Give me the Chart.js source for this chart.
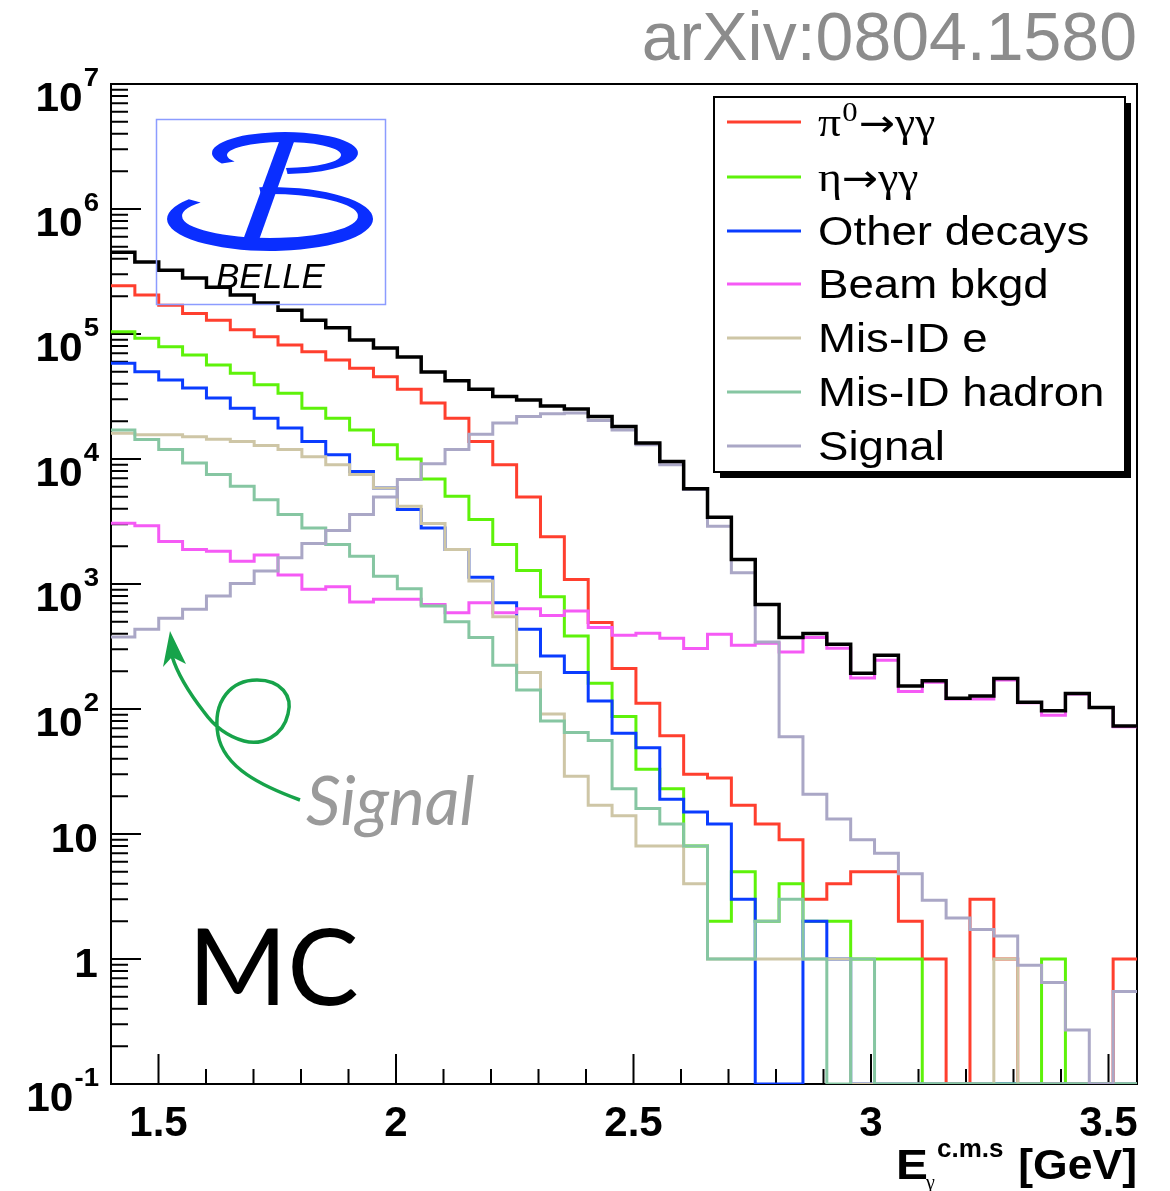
<!DOCTYPE html>
<html>
<head>
<meta charset="utf-8">
<title>E_gamma c.m.s spectrum (MC)</title>
<script src="https://cdn.jsdelivr.net/npm/chart.js@4.4.1/dist/chart.umd.min.js"></script>
<style>
  body { margin: 0; background: #fff; }
  canvas { display: block; }
</style>
</head>
<body>
<canvas id="egamma" width="1170" height="1191"></canvas>
<script>
// histogram binning (GeV)
const binLow = 1.4;
const binHigh = 3.56;
const nBins = 43;
const yMin = 0.1;
const yMax = 1e7;

const seriesNames = ["π⁰→γγ", "η→γγ", "Other decays", "Beam bkgd", "Mis-ID e", "Mis-ID hadron", "Signal"];
const seriesColors = ["#ff3f2e", "#5ef20a", "#0a3cff", "#f55af5", "#cec6a6", "#86c6a2", "#aaa7c6"];

// entries per bin
const pi0Counts = [243000, 205000, 170000, 146000, 129000, 108000, 95100, 81700, 72200, 62000, 53200, 45600, 36200, 28000, 21200, 13800, 9010, 4970, 2385, 1088, 491, 211, 111, 61, 30, 28, 17, 12, 9, 3, 4, 5, 5, 2, 1, 0, 3, 1, 0, 0, 0, 0, 1];
const etaCounts = [104000, 92400, 79200, 68000, 56600, 48600, 39200, 33600, 25500, 21200, 17100, 13000, 10000, 6920, 5030, 3280, 2070, 1284, 789, 384, 161, 87, 33, 23, 8, 2, 5, 2, 4, 2, 2, 1, 1, 1, 0, 0, 0, 0, 0, 1, 0, 0, 0];
const otherCounts = [58400, 50000, 42900, 36900, 30700, 25500, 21200, 17700, 13800, 10800, 7960, 5870, 3940, 2805, 1889, 1130, 709, 434, 266, 196, 116, 64, 49, 19, 15, 12, 3, 0, 0, 2, 1, 0, 0, 0, 0, 0, 0, 0, 0, 0, 0, 0, 0];
const beamCounts = [3060, 2920, 2190, 1890, 1830, 1520, 1710, 1180, 906, 951, 717, 754, 754, 687, 590, 709, 590, 635, 561, 608, 448, 389, 403, 368, 305, 396, 324, 336, 286, 373, 306, 177, 245, 138, 164, 120, 120, 171, 112, 89, 132, 103, 72];
const misIdECounts = [16100, 15600, 15600, 15100, 14400, 13800, 12800, 11900, 10400, 9010, 7500, 5870, 4190, 3050, 1890, 1055, 546, 196, 91, 29, 17, 14, 8, 8, 4, 1, 1, 1, 1, 1, 1, 0, 0, 0, 0, 0, 0, 1, 0, 0, 0, 0, 0];
const misIdHadronCounts = [17100, 14300, 11900, 9290, 7500, 6040, 4730, 3590, 2810, 2070, 1670, 1156, 917, 666, 500, 373, 224, 142, 80, 65, 56, 23, 16, 12, 8, 1, 1, 2, 3, 1, 0, 1, 0, 0, 0, 0, 0, 0, 0, 0, 0, 0, 0];
const signalCounts = [377, 434, 532, 627, 800, 1010, 1270, 1620, 2110, 2680, 3590, 4960, 6840, 9170, 11900, 15800, 19400, 21900, 23000, 23300, 20300, 17100, 13000, 9010, 5690, 2900, 1230, 343, 60, 20.8, 13.2, 9.0, 7.0, 4.8, 2.95, 2.13, 1.72, 1.53, 0.89, 0.65, 0.27, 0, 0.55];
const totalCounts = [451000, 376000, 324000, 280000, 237000, 205000, 177000, 155000, 129000, 112000, 89600, 77300, 65500, 49700, 42200, 36200, 31600, 29700, 26600, 25100, 21900, 18200, 13400, 9570, 5790, 3420, 1570, 687, 373, 401, 330, 193, 269, 153, 168, 122, 127, 175, 113, 97, 133, 103, 73];

// axis ticks
const xTickValues = [1.5, 2, 2.5, 3, 3.5];
const xTickLabels = ["1.5", "2", "2.5", "3", "3.5"];
const xMinorTicks = [1.6, 1.7, 1.8, 1.9, 2.1, 2.2, 2.3, 2.4, 2.6, 2.7, 2.8, 2.9, 3.1, 3.2, 3.3, 3.4];
const yTickValues = [0.1, 1, 10, 100, 1e3, 1e4, 1e5, 1e6, 1e7];
const yTickBases = ["10", "1", "10", "10", "10", "10", "10", "10", "10"];
const yTickExps = ["-1", "", "", "2", "3", "4", "5", "6", "7"];

const SANS = "'Liberation Sans', Arial, Helvetica, sans-serif";
const SERIF = "'Liberation Serif', 'Times New Roman', serif";
const ARROW = "'DejaVu Sans', sans-serif";
const GILL = "Lato, 'Open Sans', sans-serif";
const WIDE = 1.14; // ROOT text here is a bit wider than Helvetica

const binEdges = Array.from({ length: nBins + 1 }, (_, i) => binLow + (i * (binHigh - binLow)) / nBins);

// ROOT-style: empty bins sit on the bottom of the frame
function histPoints(counts) {
  const pts = counts.map((c, i) => ({ x: binEdges[i], y: c > 0 ? c : yMin }));
  pts.push({ x: binEdges[nBins], y: pts[nBins - 1].y });
  return pts;
}

const seriesCounts = [pi0Counts, etaCounts, otherCounts, beamCounts, misIdECounts, misIdHadronCounts, signalCounts];
const drawOrder = [7, 6, 5, 4, 3, 2, 1];

const datasets = seriesNames.map((name, i) => ({
  label: name,
  data: histPoints(seriesCounts[i]),
  borderColor: seriesColors[i],
  borderWidth: 3,
  order: drawOrder[i],
}));
datasets.push({
  label: "Total",
  data: histPoints(totalCounts),
  borderColor: "#000",
  borderWidth: 3.5,
  order: 0,
});
datasets.forEach((d) => {
  d.stepped = "before";
  d.pointRadius = 0;
  d.fill = false;
  d.tension = 0;
  d.borderJoinStyle = "miter";
});

// frame + inward ticks, drawn under the histograms
const rootFrame = {
  id: "rootFrame",
  beforeDatasetsDraw(chart) {
    const { ctx, chartArea: a } = chart;
    const x = chart.scales.x;
    const y = chart.scales.y;
    ctx.save();
    ctx.strokeStyle = "#000";
    ctx.lineWidth = 2;
    ctx.strokeRect(a.left, a.top, a.right - a.left, a.bottom - a.top);

    ctx.beginPath();
    for (let e = -1; e < 7; e++) {
      for (let m = 1; m < 10; m++) {
        const py = y.getPixelForValue(m * Math.pow(10, e));
        ctx.moveTo(a.left, py);
        ctx.lineTo(a.left + (m === 1 ? 30 : 17), py);
      }
    }
    xTickValues.forEach((v) => {
      const px = x.getPixelForValue(v);
      ctx.moveTo(px, a.bottom);
      ctx.lineTo(px, a.bottom - 30);
    });
    xMinorTicks.forEach((v) => {
      const px = x.getPixelForValue(v);
      ctx.moveTo(px, a.bottom);
      ctx.lineTo(px, a.bottom - 15);
    });
    ctx.stroke();
    ctx.restore();
  },
};

function drawBelleLogo(ctx) {
  const rad = (d) => (d * Math.PI) / 180;
  ctx.save();
  ctx.strokeStyle = "#8c9cff";
  ctx.lineWidth = 1.5;
  ctx.strokeRect(156.5, 119.5, 229, 185);

  ctx.fillStyle = "#0a2eff";
  // upper bowl of the script B
  ctx.beginPath();
  ctx.ellipse(285, 153, 73, 21, 0, rad(150), rad(448));
  ctx.ellipse(284, 155, 57, 13, 0, rad(448), rad(150), true);
  ctx.closePath();
  ctx.fill();
  // lower bowl
  ctx.beginPath();
  ctx.ellipse(270, 219, 103, 32, 0, rad(264), rad(578));
  ctx.ellipse(270, 216, 88, 22, 0, rad(578), rad(264), true);
  ctx.closePath();
  ctx.fill();
  // stem
  ctx.beginPath();
  ctx.moveTo(280, 139);
  ctx.lineTo(295, 139);
  ctx.lineTo(259, 240);
  ctx.lineTo(243, 240);
  ctx.closePath();
  ctx.fill();

  ctx.fillStyle = "#000";
  ctx.font = `italic 35px ${SANS}`;
  ctx.textAlign = "left";
  ctx.textBaseline = "alphabetic";
  ctx.fillText("BELLE", 216, 288);
  ctx.restore();
}

// draws a run of text pieces, each with its own font and vertical shift,
// stretched horizontally by sx
function drawPieces(ctx, pieces, x, y, sx) {
  ctx.save();
  ctx.translate(x, y);
  ctx.scale(sx, 1);
  let cx = 0;
  pieces.forEach((p) => {
    ctx.font = p.font;
    ctx.fillText(p.t, cx, p.dy || 0);
    cx += ctx.measureText(p.t).width + (p.gap || 0);
  });
  ctx.restore();
}

function piecesWidth(ctx, pieces, sx) {
  let w = 0;
  pieces.forEach((p) => {
    ctx.font = p.font;
    w += ctx.measureText(p.t).width + (p.gap || 0);
  });
  return w * sx;
}

function legendPieces(name) {
  if (name === "π⁰→γγ") {
    return [
      { t: "π", font: `40px ${SERIF}`, gap: 1 },
      { t: "0", font: `27px ${SERIF}`, dy: -15, gap: 1 },
      { t: "→", font: `38px ${ARROW}` },
      { t: "γγ", font: `40px ${SERIF}` },
    ];
  }
  if (name === "η→γγ") {
    return [
      { t: "η", font: `40px ${SERIF}` },
      { t: "→", font: `38px ${ARROW}` },
      { t: "γγ", font: `40px ${SERIF}` },
    ];
  }
  return [{ t: name, font: `40px ${SANS}` }];
}

const overlays = {
  id: "overlays",
  afterDatasetsDraw(chart) {
    drawBelleLogo(chart.ctx);
  },
  afterDraw(chart) {
    const { ctx } = chart;
    const y = chart.scales.y;
    ctx.save();
    ctx.fillStyle = "#000";
    ctx.textBaseline = "alphabetic";
    ctx.textAlign = "left";

    // y tick labels, 10^n with raised exponent, right edge at x = 99
    yTickValues.forEach((v, i) => {
      const py = y.getPixelForValue(v);
      const exp = yTickExps[i];
      const base = { t: yTickBases[i], font: `bold 40px ${SANS}`, gap: 1 };
      const pieces = exp ? [base, { t: exp, font: `bold 26px ${SANS}`, dy: -25 }] : [base];
      const w = piecesWidth(ctx, pieces, 1.06);
      drawPieces(ctx, pieces, 99 - w, py + (exp ? 27 : 18), 1.06);
    });

    // x axis title
    drawPieces(ctx, [{ t: "E", font: `bold 42px ${SANS}` }], 896, 1179, WIDE);
    drawPieces(ctx, [{ t: "c.m.s", font: `bold 26px ${SANS}` }], 937, 1157, 1);
    drawPieces(ctx, [{ t: "γ", font: `20px ${SERIF}` }], 926, 1189, 1);
    const unit = [{ t: "[GeV]", font: `bold 42px ${SANS}` }];
    drawPieces(ctx, unit, 1137 - piecesWidth(ctx, unit, 1.06), 1179, 1.06);

    // legend box with drop shadow
    const lx = 714, ly = 97, lw = 411, lh = 375;
    ctx.fillStyle = "#000";
    ctx.fillRect(lx + 6, ly + lh, lw, 6);
    ctx.fillRect(lx + lw, ly + 6, 6, lh);
    ctx.fillStyle = "#fff";
    ctx.fillRect(lx, ly, lw, lh);
    ctx.strokeStyle = "#000";
    ctx.lineWidth = 2;
    ctx.strokeRect(lx, ly, lw, lh);
    const rowY = [122, 177, 231, 284, 338, 392, 446];
    seriesNames.forEach((name, i) => {
      ctx.strokeStyle = seriesColors[i];
      ctx.lineWidth = 3;
      ctx.beginPath();
      ctx.moveTo(727, rowY[i]);
      ctx.lineTo(801, rowY[i]);
      ctx.stroke();
      ctx.fillStyle = "#000";
      drawPieces(ctx, legendPieces(name), 818, rowY[i] + 14, WIDE);
    });

    // annotation: arrow to the signal shape
    ctx.strokeStyle = "#17a34a";
    ctx.lineWidth = 3.5;
    ctx.beginPath();
    ctx.moveTo(300, 800);
    ctx.bezierCurveTo(262, 786, 224, 768, 218, 735);
    ctx.bezierCurveTo(212, 700, 232, 680, 257, 680);
    ctx.bezierCurveTo(281, 680, 293, 696, 288, 714);
    ctx.bezierCurveTo(283, 736, 262, 746, 244, 741);
    ctx.bezierCurveTo(226, 736, 214, 726, 204, 712);
    ctx.bezierCurveTo(190, 694, 178, 676, 172, 656);
    ctx.stroke();
    ctx.fillStyle = "#17a34a";
    ctx.beginPath();
    ctx.moveTo(170, 631);
    ctx.lineTo(186, 664);
    ctx.lineTo(172, 657);
    ctx.lineTo(163, 667);
    ctx.closePath();
    ctx.fill();

    ctx.fillStyle = "#9a9a9a";
    ctx.font = `italic 68px ${GILL}`;
    ctx.fillText("Signal", 306, 825);

    ctx.fillStyle = "#000";
    ctx.font = `107px ${GILL}`;
    ctx.fillText("MC", 188, 1005);
    ctx.restore();
  },
};

new Chart(document.getElementById("egamma"), {
  type: "line",
  data: { datasets },
  plugins: [rootFrame, overlays],
  options: {
    responsive: false,
    animation: false,
    devicePixelRatio: 1,
    layout: { padding: { left: 0, right: 33, top: 0, bottom: 0 } },
    plugins: {
      legend: { display: false },
      tooltip: { enabled: false },
      title: {
        display: true,
        text: "arXiv:0804.1580",
        align: "end",
        color: "#8c8c8c",
        font: { family: SANS, size: 68, weight: "normal", lineHeight: 1.2 },
        padding: { top: 0, bottom: 2.4 },
      },
    },
    scales: {
      x: {
        type: "linear",
        min: binLow,
        max: binHigh,
        grid: { display: false },
        border: { display: false },
        afterBuildTicks: (scale) => {
          scale.ticks = xTickValues.map((v) => ({ value: v }));
        },
        afterFit: (scale) => {
          scale.height = 107;
        },
        ticks: {
          color: "#000",
          padding: 7,
          maxRotation: 0,
          autoSkip: false,
          font: { family: SANS, size: 42, weight: "bold" },
          callback: (v) => xTickLabels[xTickValues.indexOf(v)],
        },
      },
      y: {
        type: "logarithmic",
        min: yMin,
        max: yMax,
        grid: { display: false },
        border: { display: false },
        ticks: { display: false },
        afterFit: (scale) => {
          scale.width = 111;
        },
      },
    },
  },
});
</script>
</body>
</html>
